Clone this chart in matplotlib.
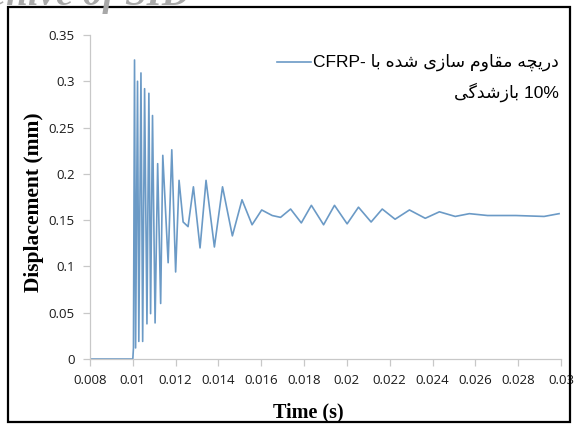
import matplotlib
matplotlib.use("Agg")
import matplotlib.pyplot as plt
from matplotlib.patches import Rectangle

# ---------------- data ----------------
time_s = [0.008, 0.010, 0.01003, 0.01008, 0.01013, 0.01022, 0.01028, 0.01038, 0.01046,
          0.01055, 0.01066, 0.01075, 0.01083, 0.01092, 0.01104, 0.01116, 0.01130,
          0.01140, 0.01165, 0.01182, 0.01200, 0.01216, 0.01235, 0.01258, 0.01283,
          0.01314, 0.01342, 0.01381, 0.01419, 0.01465, 0.01510, 0.01557, 0.01602,
          0.01651, 0.01690, 0.01737, 0.01787, 0.01834, 0.01891, 0.01942, 0.02001,
          0.02054, 0.02113, 0.02165, 0.02225, 0.02292, 0.02366, 0.02432, 0.02506,
          0.02572, 0.02657, 0.02789, 0.02921, 0.02991]
displacement_mm = [0.0, 0.0, 0.012, 0.323, 0.012, 0.300, 0.019, 0.309, 0.019,
                   0.292, 0.038, 0.287, 0.049, 0.263, 0.039, 0.211, 0.060,
                   0.220, 0.104, 0.226, 0.094, 0.193, 0.148, 0.143, 0.186,
                   0.120, 0.193, 0.121, 0.186, 0.133, 0.172, 0.145, 0.161,
                   0.155, 0.153, 0.162, 0.147, 0.166, 0.145, 0.166, 0.146,
                   0.164, 0.148, 0.162, 0.151, 0.161, 0.152, 0.159, 0.154,
                   0.157, 0.155, 0.155, 0.154, 0.157]
x_ticks = [0.008, 0.010, 0.012, 0.014, 0.016, 0.018, 0.020, 0.022, 0.024, 0.026, 0.028, 0.030]
x_tick_labels = ["0.008", "0.01", "0.012", "0.014", "0.016", "0.018", "0.02", "0.022",
                 "0.024", "0.026", "0.028", "0.03"]
y_ticks = [0, 0.05, 0.1, 0.15, 0.2, 0.25, 0.3, 0.35]
y_tick_labels = ["0", "0.05", "0.1", "0.15", "0.2", "0.25", "0.3", "0.35"]
legend_line1_fa = "دریچه مقاوم سازی شده با"
legend_line1_latin = "CFRP-"
legend_line2_fa = "بازشدگی"
legend_line2_latin = "10%"
x_label = "Time (s)"
y_label = "Displacement (mm)"
watermark = "Archive of SID"

# ---------------- minimal Persian shaping (matplotlib has no bidi/shaping) ----------------
FORMS = {  # isolated, final, initial, medial
    "د": ("\uFEA9", "\uFEAA", None, None),
    "ر": ("\uFEAD", "\uFEAE", None, None),
    "ز": ("\uFEAF", "\uFEB0", None, None),
    "ا": ("\uFE8D", "\uFE8E", None, None),
    "و": ("\uFEED", "\uFEEE", None, None),
    "ی": ("\uFBFC", "\uFBFD", "\uFBFE", "\uFBFF"),
    "چ": ("\uFB7A", "\uFB7B", "\uFB7C", "\uFB7D"),
    "ه": ("\uFEE9", "\uFEEA", "\uFEEB", "\uFEEC"),
    "م": ("\uFEE1", "\uFEE2", "\uFEE3", "\uFEE4"),
    "ق": ("\uFED5", "\uFED6", "\uFED7", "\uFED8"),
    "س": ("\uFEB1", "\uFEB2", "\uFEB3", "\uFEB4"),
    "ش": ("\uFEB5", "\uFEB6", "\uFEB7", "\uFEB8"),
    "ب": ("\uFE8F", "\uFE90", "\uFE91", "\uFE92"),
    "گ": ("\uFB92", "\uFB93", "\uFB94", "\uFB95"),
}


def shape_rtl(text):
    out = []
    for i, ch in enumerate(text):
        if ch not in FORMS:
            out.append(ch)
            continue
        prev = text[i - 1] if i > 0 else None
        nxt = text[i + 1] if i + 1 < len(text) else None
        jp = prev in FORMS and FORMS[prev][2] is not None
        jn = FORMS[ch][2] is not None and nxt in FORMS
        iso, fin, ini, med = FORMS[ch]
        out.append(med if jp and jn else fin if jp else ini if jn else iso)
    return "".join(reversed(out))


# ---------------- figure ----------------
W, H = 577, 425
fig = plt.figure(figsize=(W / 100, H / 100), dpi=100)
fig.patch.set_facecolor("white")

# outer frame
fig.add_artist(Rectangle((8 / W, 3 / H), (570 - 8) / W, (418 - 3) / H,
                         transform=fig.transFigure, fill=False,
                         edgecolor="black", linewidth=1.6))
# watermark at the very top, clipped by the page edge as in the reference
fig.text(-0.09, 1 - 5 / H, watermark, fontsize=28, color="#a8a8a8",
         family="Liberation Serif", style="italic", fontweight="bold",
         ha="left", va="baseline")

line_color = "#6b9ac6"
ax = fig.add_axes([90 / W, 1 - 359 / H, (561 - 90) / W, (359 - 35) / H])
ax.plot(time_s, displacement_mm, color=line_color, linewidth=1.2)

ax.set_xlim(0.008, 0.030)
ax.set_ylim(0, 0.35)
ax.set_xticks(x_ticks)
ax.set_xticklabels(x_tick_labels)
ax.set_yticks(y_ticks)
ax.set_yticklabels(y_tick_labels)

for s in ("top", "right"):
    ax.spines[s].set_visible(False)
for s in ("left", "bottom"):
    ax.spines[s].set_color("#c8c8c8")
    ax.spines[s].set_linewidth(0.9)
ax.tick_params(axis="both", colors="#c8c8c8", labelcolor="#1a1a1a",
               length=5, width=0.9, labelsize=9.5, pad=6)
for lab in ax.get_xticklabels() + ax.get_yticklabels():
    lab.set_family(["Open Sans", "DejaVu Sans"])

ax.set_xlabel(x_label, family="Liberation Serif", fontweight="bold", fontsize=14.5)
ax.set_ylabel(y_label, family="Liberation Serif", fontweight="bold", fontsize=15.5)
ax.xaxis.set_label_coords(0.463, -0.133)
ax.yaxis.set_label_coords(-0.097, 0.485)

# legend (placed by hand, as in the reference)
ax.plot([0.01675, 0.01830], [0.321, 0.321], color=line_color, linewidth=1.2,
        clip_on=False)
fam = ["Liberation Sans", "DejaVu Sans"]
ax.text(0.0299, 0.321, legend_line1_latin + " " + shape_rtl(legend_line1_fa),
        ha="right", va="center", fontsize=12.5, family=fam)
ax.text(0.0299, 0.288, shape_rtl(legend_line2_fa) + " " + legend_line2_latin,
        ha="right", va="center", fontsize=12.5, family=fam)

fig.savefig("out.png", dpi=100, facecolor="white")
